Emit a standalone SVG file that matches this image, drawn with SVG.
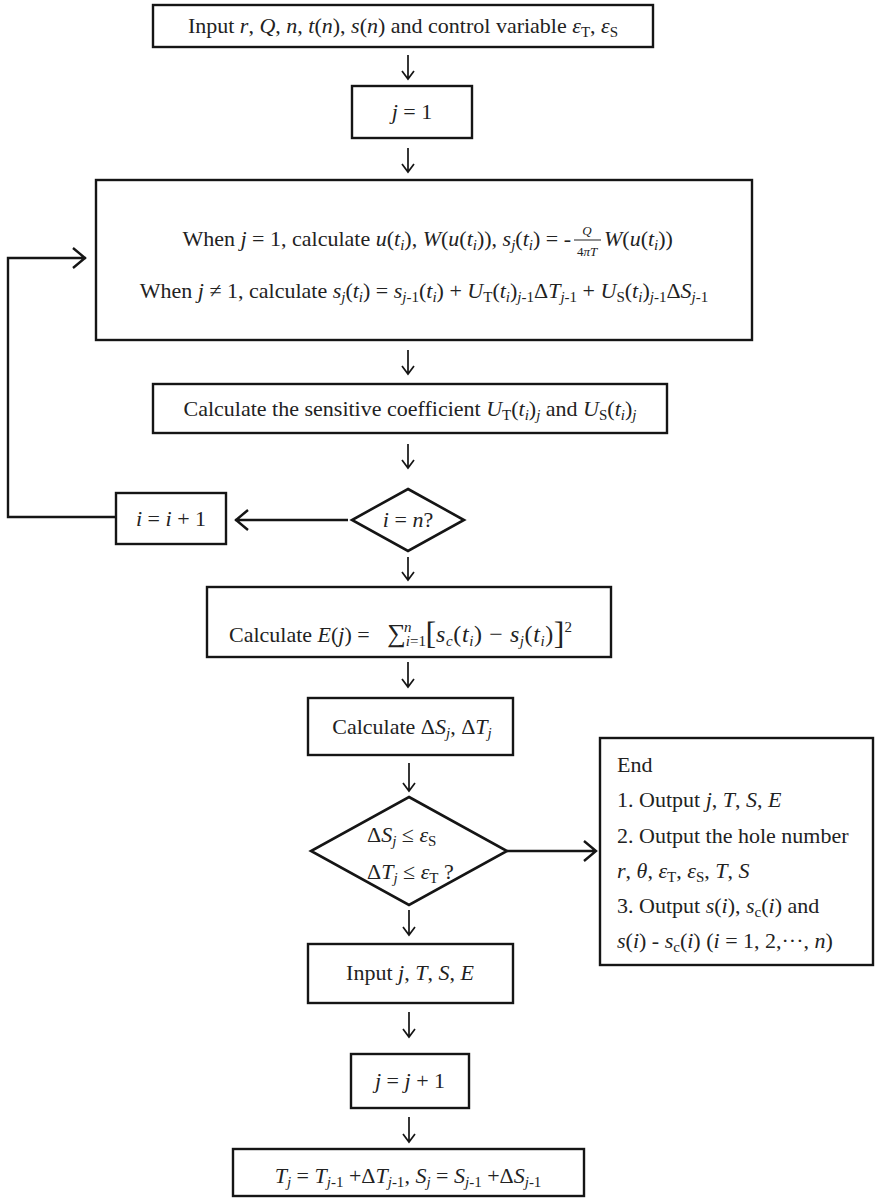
<svg xmlns="http://www.w3.org/2000/svg" width="876" height="1198" viewBox="0 0 876 1198">
  <style>
    .box { fill: #fff; stroke: #151515; stroke-width: 2.4; }
    .dia { fill: #fff; stroke: #151515; stroke-width: 2.6; stroke-linejoin: miter; }
    .t { font-family: "Liberation Serif", "Times New Roman", serif; font-size: 22px; fill: #222; }
    .m { text-anchor: middle; }
    .i { font-style: italic; }
    .s { font-size: 15px; baseline-shift: -4px; }
    .sup { font-size: 15px; baseline-shift: 10px; }
    .small { font-size: 13px; }
    .math { font-size: 24px; letter-spacing: 0.6px; }
    .down { stroke: #151515; stroke-width: 1.7; fill: none; }
    .con { stroke: #151515; stroke-width: 2.4; fill: none; }
  </style>

  <!-- connectors -->
  <g id="connectors">
    <path class="down" d="M408 55 V79 M402 71 L408 79 L414 71"/>
    <path class="down" d="M408 148 V172 M402 164 L408 172 L414 164"/>
    <path class="down" d="M408 350 V374 M402 366 L408 374 L414 366"/>
    <path class="down" d="M408 444 V468 M402 460 L408 468 L414 460"/>
    <path class="down" d="M408 557 V580 M402 572 L408 580 L414 572"/>
    <path class="down" d="M408 662 V687 M402 679 L408 687 L414 679"/>
    <path class="down" d="M409 763 V791 M403 783 L409 791 L415 783"/>
    <path class="down" d="M409 910 V935 M403 927 L409 935 L415 927"/>
    <path class="down" d="M409 1012 V1037 M403 1029 L409 1037 L415 1029"/>
    <path class="down" d="M409 1117 V1142 M403 1134 L409 1142 L415 1134"/>
    <!-- not yet the last sample: step i -->
    <path class="con" d="M348 520 H235 M248 510 L236 520 L248 530"/>
    <!-- loop back to the calculation box -->
    <path class="con" d="M116 517 H8 V258 H86 M73 248 L85 258 L73 268"/>
    <!-- convergence reached: finish -->
    <path class="con" d="M507 851 H596 M584 841 L596 851 L584 861"/>
  </g>

  <g id="input">
    <rect class="box" x="153" y="5" width="500" height="42"/>
    <text class="t m" x="403" y="33" font-size="21.5">Input <tspan class="i">r</tspan>, <tspan class="i">Q</tspan>, <tspan class="i">n</tspan>, <tspan class="i">t</tspan>(<tspan class="i">n</tspan>), <tspan class="i">s</tspan>(<tspan class="i">n</tspan>) and control variable  <tspan class="i">ε</tspan><tspan class="s">T</tspan>,  <tspan class="i">ε</tspan><tspan class="s">S</tspan></text>
  </g>

  <g id="j-init">
    <rect class="box" x="352" y="86" width="120" height="52"/>
    <text class="t m" x="412" y="119"><tspan class="i">j</tspan> = 1</text>
  </g>

  <g id="calc-s">
    <rect class="box" x="96" y="180" width="656" height="160"/>
    <text class="t" x="571" y="246" text-anchor="end" font-size="22.5">When <tspan class="i">j</tspan> = 1, calculate <tspan class="i">u</tspan>(<tspan class="i">t</tspan><tspan class="s i">i</tspan>), <tspan class="i">W</tspan>(<tspan class="i">u</tspan>(<tspan class="i">t</tspan><tspan class="s i">i</tspan>)), <tspan class="i">s</tspan><tspan class="s i">j</tspan>(<tspan class="i">t</tspan><tspan class="s i">i</tspan>) = -</text>
    <text class="t m small i" x="587" y="235">Q</text>
    <line x1="574" y1="240" x2="601" y2="240" stroke="#222" stroke-width="1"/>
    <text class="t m small" x="587" y="256">4<tspan class="i">πT</tspan></text>
    <text class="t" x="604" y="246" font-size="22.5"><tspan class="i">W</tspan>(<tspan class="i">u</tspan>(<tspan class="i">t</tspan><tspan class="s i">i</tspan>))</text>
    <text class="t m" x="424" y="298" font-size="22.5">When <tspan class="i">j</tspan> ≠ 1, calculate <tspan class="i">s</tspan><tspan class="s i">j</tspan>(<tspan class="i">t</tspan><tspan class="s i">i</tspan>) = <tspan class="i">s</tspan><tspan class="s"><tspan class="i">j</tspan>-1</tspan>(<tspan class="i">t</tspan><tspan class="s i">i</tspan>) + <tspan class="i">U</tspan><tspan class="s">T</tspan>(<tspan class="i">t</tspan><tspan class="s i">i</tspan>)<tspan class="s"><tspan class="i">j</tspan>-1</tspan>Δ<tspan class="i">T</tspan><tspan class="s"><tspan class="i">j</tspan>-1</tspan> + <tspan class="i">U</tspan><tspan class="s">S</tspan>(<tspan class="i">t</tspan><tspan class="s i">i</tspan>)<tspan class="s"><tspan class="i">j</tspan>-1</tspan>Δ<tspan class="i">S</tspan><tspan class="s"><tspan class="i">j</tspan>-1</tspan></text>
  </g>

  <g id="sensitivity">
    <rect class="box" x="153" y="384" width="514" height="49"/>
    <text class="t m" x="410" y="416">Calculate the sensitive coefficient <tspan class="i">U</tspan><tspan class="s">T</tspan>(<tspan class="i">t</tspan><tspan class="s i">i</tspan>)<tspan class="s i">j</tspan> and <tspan class="i">U</tspan><tspan class="s">S</tspan>(<tspan class="i">t</tspan><tspan class="s i">i</tspan>)<tspan class="s i">j</tspan></text>
  </g>

  <g id="check-i">
    <polygon class="dia" points="408,489 464,520 408,551 352,520"/>
    <text class="t m" x="408" y="527"><tspan class="i">i</tspan> = <tspan class="i">n</tspan>?</text>
  </g>

  <g id="i-step">
    <rect class="box" x="116" y="493" width="110" height="51"/>
    <text class="t m" x="171" y="526"><tspan class="i">i</tspan> = <tspan class="i">i</tspan> + 1</text>
  </g>

  <g id="error">
    <rect class="box" x="207" y="587" width="404" height="70"/>
    <text class="t" x="229" y="642">Calculate <tspan class="i">E</tspan>(<tspan class="i">j</tspan>) = <tspan dx="12" font-size="26">∑</tspan><tspan class="s i">i</tspan><tspan class="s">=1</tspan><tspan class="sup i" dx="-22" baseline-shift="11px">n</tspan><tspan dx="14" font-size="32" baseline-shift="-2px">[</tspan><tspan class="math"><tspan class="i">s</tspan><tspan class="s i">c</tspan>(<tspan class="i">t</tspan><tspan class="s i">i</tspan>) −  <tspan class="i">s</tspan><tspan class="s i">j</tspan>(<tspan class="i">t</tspan><tspan class="s i">i</tspan>)</tspan><tspan font-size="32" baseline-shift="-2px">]</tspan><tspan class="sup" baseline-shift="14px">2</tspan></text>
  </g>

  <g id="increments">
    <rect class="box" x="308" y="698" width="205" height="57"/>
    <text class="t m" x="412" y="734">Calculate Δ<tspan class="i">S</tspan><tspan class="s i">j</tspan>, Δ<tspan class="i">T</tspan><tspan class="s i">j</tspan></text>
  </g>

  <g id="check-conv">
    <polygon class="dia" points="409,797 507,851 409,905 311,851"/>
    <text class="t" x="367" y="842">Δ<tspan class="i">S</tspan><tspan class="s i">j</tspan> ≤ <tspan class="i">ε</tspan><tspan class="s">S</tspan></text>
    <text class="t" x="367" y="879">Δ<tspan class="i">T</tspan><tspan class="s i">j</tspan> ≤ <tspan class="i">ε</tspan><tspan class="s">T</tspan> ?</text>
  </g>

  <g id="end">
    <rect class="box" x="600" y="738" width="273" height="227"/>
    <text class="t" x="617" y="772">End</text>
    <text class="t" x="617" y="807">1. Output <tspan class="i">j</tspan>, <tspan class="i">T</tspan>, <tspan class="i">S</tspan>, <tspan class="i">E</tspan></text>
    <text class="t" x="617" y="843">2. Output the hole number</text>
    <text class="t" x="617" y="878"><tspan class="i">r</tspan>, <tspan class="i">θ</tspan>, <tspan class="i">ε</tspan><tspan class="s">T</tspan>, <tspan class="i">ε</tspan><tspan class="s">S</tspan>, <tspan class="i">T</tspan>, <tspan class="i">S</tspan></text>
    <text class="t" x="617" y="913">3. Output <tspan class="i">s</tspan>(<tspan class="i">i</tspan>), <tspan class="i">s</tspan><tspan class="s">c</tspan>(<tspan class="i">i</tspan>) and</text>
    <text class="t" x="617" y="948"><tspan class="i">s</tspan>(<tspan class="i">i</tspan>) - <tspan class="i">s</tspan><tspan class="s">c</tspan>(<tspan class="i">i</tspan>) (<tspan class="i">i</tspan> = 1, 2,···, <tspan class="i">n</tspan>)</text>
  </g>

  <g id="input-jtse">
    <rect class="box" x="308" y="944" width="205" height="59"/>
    <text class="t m" x="410" y="980">Input <tspan class="i">j</tspan>, <tspan class="i">T</tspan>, <tspan class="i">S</tspan>, <tspan class="i">E</tspan></text>
  </g>

  <g id="j-step">
    <rect class="box" x="351" y="1054" width="118" height="54"/>
    <text class="t m" x="410" y="1088"><tspan class="i">j</tspan> = <tspan class="i">j</tspan> + 1</text>
  </g>

  <g id="update">
    <rect class="box" x="233" y="1149" width="351" height="47"/>
    <text class="t m" x="408" y="1183"><tspan class="i">T</tspan><tspan class="s i">j</tspan> = <tspan class="i">T</tspan><tspan class="s"><tspan class="i">j</tspan>-1</tspan> +Δ<tspan class="i">T</tspan><tspan class="s"><tspan class="i">j</tspan>-1</tspan>, <tspan class="i">S</tspan><tspan class="s i">j</tspan> = <tspan class="i">S</tspan><tspan class="s"><tspan class="i">j</tspan>-1</tspan> +Δ<tspan class="i">S</tspan><tspan class="s"><tspan class="i">j</tspan>-1</tspan></text>
  </g>
</svg>
